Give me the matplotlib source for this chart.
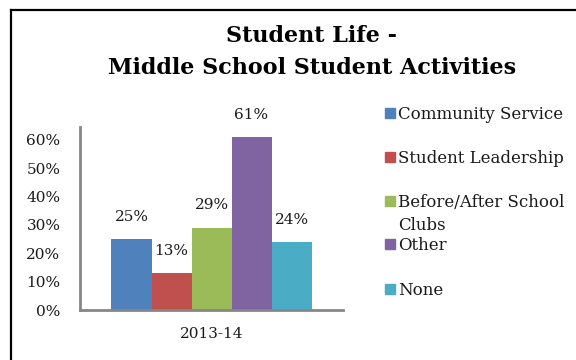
import matplotlib
matplotlib.use("Agg")
import matplotlib.pyplot as plt
from matplotlib.patches import Rectangle
from matplotlib.lines import Line2D
from matplotlib.ticker import PercentFormatter

# Survey results for 2013-14
category = "2013-14"
series = ["Community Service", "Student Leadership", "Before/After School\nClubs", "Other", "None"]
values = [0.25, 0.13, 0.29, 0.61, 0.24]
colors = ["#4F81BD", "#C0504D", "#9BBB59", "#8064A2", "#4BACC6"]
yticks = [0.0, 0.1, 0.2, 0.3, 0.4, 0.5, 0.6]

plt.rcParams["font.family"] = ["DejaVu Serif"]

W, H = 576, 360
fig = plt.figure(figsize=(W / 100, H / 100), dpi=100)

def fx(px):
    return px / W

def fy(py):
    return 1 - py / H

# outer frame (left and top edges visible)
fig.add_artist(Line2D([fx(11), fx(11)], [0, fy(10)], transform=fig.transFigure,
                      color="black", lw=1.6))
fig.add_artist(Line2D([fx(11), 1.0], [fy(10), fy(10)], transform=fig.transFigure,
                      color="black", lw=1.6))

fig.text(fx(312), fy(36), "Student Life -", ha="center", va="center",
         fontsize=16, fontweight="bold")
fig.text(fx(312), fy(68.5), "Middle School Student Activities", ha="center", va="center",
         fontsize=16, fontweight="bold")

ax = fig.add_axes([fx(80), fy(310), fx(343) - fx(80), fy(127) - fy(310)])
n = len(values)
width = 1.0 / n
offsets = [(i - (n - 1) / 2) * width for i in range(n)]
for off, v, c, name in zip(offsets, values, colors, series):
    ax.bar(off, v, width=width, color=c, label=name)
    ax.annotate(f"{round(v * 100)}%", (off, v), xytext=(0, 16), textcoords="offset points",
                ha="center", va="center", fontsize=11, color="#1a1a1a")

ax.set_xlim(-0.6575, 0.6575)
ax.set_ylim(0, 0.645)
ax.set_yticks(yticks)
ax.yaxis.set_major_formatter(PercentFormatter(1.0, decimals=0))
ax.set_xticks([0])
ax.set_xticklabels([category])
ax.tick_params(axis="y", length=0, pad=14, labelsize=11, labelcolor="#1a1a1a")
ax.tick_params(axis="x", length=0, pad=12, labelsize=11, labelcolor="#1a1a1a")
for s in ["top", "right"]:
    ax.spines[s].set_visible(False)
for s in ["left", "bottom"]:
    ax.spines[s].set_color("#868686")
    ax.spines[s].set_linewidth(2)

# legend entries
leg_y = [113, 157, 201, 244, 289]
for name, c, y in zip(series, colors, leg_y):
    fig.add_artist(Rectangle((fx(385), fy(y + 5)), fx(10), fy(0) - fy(10),
                             transform=fig.transFigure, color=c))
    fig.text(fx(398), fy(y - 7), name, ha="left", va="top", fontsize=12,
             color="#1a1a1a", linespacing=1.45)

fig.savefig("out.png", dpi=100)
